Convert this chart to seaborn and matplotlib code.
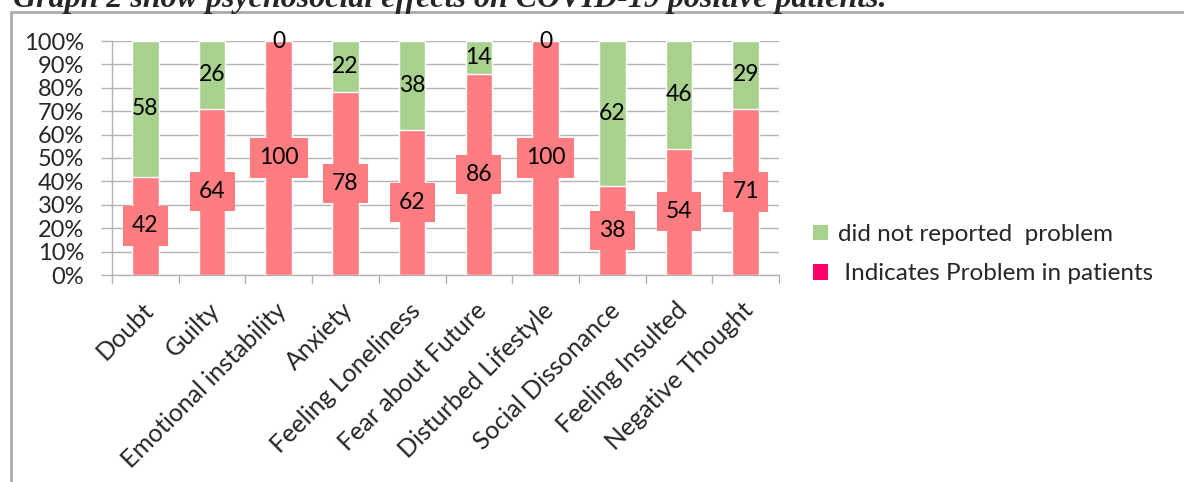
import matplotlib
matplotlib.use("Agg")
import matplotlib.pyplot as plt
from matplotlib.patches import Patch
from matplotlib.lines import Line2D
from matplotlib.ticker import FuncFormatter, MultipleLocator
from matplotlib.transforms import ScaledTranslation
import seaborn as sns
import pandas as pd

# Psychosocial effects reported by COVID-19 positive patients (%)
categories = ["Doubt", "Guilty", "Emotional instability", "Anxiety",
              "Feeling Loneliness", "Fear about Future", "Disturbed Lifestyle",
              "Social Dissonance", "Feeling Insulted", "Negative Thought"]
problem = [42, 64, 100, 78, 62, 86, 100, 38, 54, 71]
no_problem = [58, 26, 0, 22, 38, 14, 0, 62, 46, 29]
series_names = ["did not reported  problem", " Indicates Problem in patients"]
title = "Graph 2 show psychosocial effects on COVID-19 positive patients."

PINK = "#FF7C80"
GREEN = "#A9D18E"
LEGEND_PINK = "#FF0066"
GRID = "#B3B3B3"

sns.set_style("white")
plt.rcParams["font.family"] = ["Lato", "DejaVu Sans"]

df = pd.DataFrame({"category": categories,
                   "problem": problem,
                   "no_problem": no_problem})
# 100% stacked: each category is scaled to its own total
df["total"] = df["problem"] + df["no_problem"]
df["problem_share"] = df["problem"] / df["total"] * 100
df["full"] = 100.0

fig = plt.figure(figsize=(11.84, 4.82), dpi=100)
ax = fig.add_axes([112 / 1184, 207 / 482, 667 / 1184, 234 / 482])

# stacked bars: full height in green, problem share drawn over it in pink
sns.barplot(data=df, x="category", y="full", color=GREEN, width=0.4,
            saturation=1, ax=ax, zorder=2)
sns.barplot(data=df, x="category", y="problem_share", color=PINK, width=0.4,
            saturation=1, ax=ax, zorder=3)

ax.set_ylim(0, 100)
ax.set_xlim(-0.5, len(categories) - 0.5)
ax.yaxis.set_major_locator(MultipleLocator(10))
ax.yaxis.set_major_formatter(FuncFormatter(lambda v, _: f"{v:.0f}%"))
ax.grid(axis="y", color=GRID, linewidth=1, zorder=0)
ax.set_axisbelow(True)
ax.set_xlabel("")
ax.set_ylabel("")

for side in ("top", "right"):
    ax.spines[side].set_visible(False)
for side in ("left", "bottom"):
    ax.spines[side].set_color(GRID)
    ax.spines[side].set_linewidth(1)

ax.tick_params(axis="y", length=8, color=GRID, width=1, pad=12,
               labelsize=17, left=True)
ax.set_yticks(range(0, 101, 10))

# category ticks sit between bars, labels centred on bars
ax.set_xticks(list(range(len(categories))))
ax.set_xticklabels(categories, rotation=45, ha="right",
                   rotation_mode="anchor", fontsize=18)
ax.tick_params(axis="x", length=0, pad=14)
shift = ScaledTranslation(-4 / 100, -4 / 100, fig.dpi_scale_trans)
for lbl in ax.get_xticklabels():
    lbl.set_transform(lbl.get_transform() + shift)
for b in [i - 0.5 for i in range(len(categories) + 1)]:
    ax.add_line(Line2D([b, b], [0, -0.034], transform=ax.get_xaxis_transform(),
                       color=GRID, linewidth=1, clip_on=False))

# data labels
for i, row in df.iterrows():
    ps = row["problem_share"]
    ax.text(i, ps / 2, f"{row['problem']}", ha="center", va="center",
            fontsize=16.5, color="black", zorder=5,
            bbox=dict(boxstyle="square,pad=0.4", fc=PINK, ec="none"))
    ax.text(i, ps + (100 - ps) / 2, f"{row['no_problem']}", ha="center",
            va="center", fontsize=16.5, color="black", zorder=5, clip_on=False)

handles = [Patch(facecolor=GREEN, edgecolor="none"),
           Patch(facecolor=LEGEND_PINK, edgecolor="none")]
fig.legend(handles, series_names, loc="upper left",
           bbox_to_anchor=(813 / 1184, 1 - 224 / 482),
           frameon=False, fontsize=17.5, handlelength=0.62, handleheight=0.62,
           handletextpad=0.4, labelspacing=0.75, borderaxespad=0,
           borderpad=0)

# outer frame (left and top edges) and the partly visible caption
fig.add_artist(Line2D([11 / 1184, 11 / 1184], [0, 1 - 11.5 / 482],
                      transform=fig.transFigure, color="#ABABAB", linewidth=2))
fig.add_artist(Line2D([11 / 1184, 1184 / 1184], [1 - 11.5 / 482, 1 - 11.5 / 482],
                      transform=fig.transFigure, color="#ABABAB", linewidth=2))
fig.text(13 / 1184, 1 - 7 / 482, title, ha="left", va="baseline",
         fontsize=23, fontweight="bold", fontstyle="italic",
         family=["Liberation Serif", "DejaVu Serif"])

fig.savefig("out.png", dpi=100, facecolor="white")
